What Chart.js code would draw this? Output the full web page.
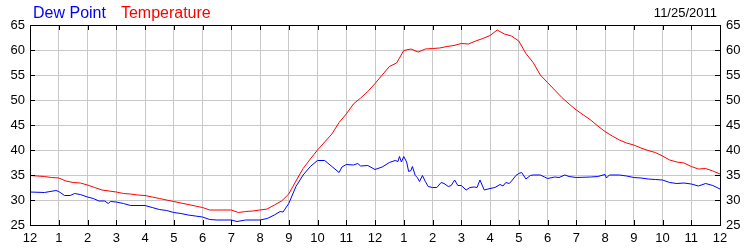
<!DOCTYPE html>
<html>
<head>
<meta charset="utf-8">
<script src="https://cdn.jsdelivr.net/npm/chart.js@4.4.1/dist/chart.umd.min.js"></script>
<style>
html, body { margin: 0; padding: 0; background: #fff; }
#wrap { width: 750px; height: 250px; }
</style>
</head>
<body>
<div id="wrap"><canvas id="chart" width="750" height="250"></canvas></div>
<script>
const hourLabels = ['12', '1', '2', '3', '4', '5', '6', '7', '8', '9', '10', '11',
    '12', '1', '2', '3', '4', '5', '6', '7', '8', '9', '10', '11', '12'];
const dateLabel = '11/25/2011';

// temperature, read every quarter hour
const tempHours = [
    0, 0.25, 0.5, 0.75, 1, 1.25, 1.5, 1.75, 2, 2.25, 2.5, 2.75,
    3, 3.25, 3.5, 3.75, 4, 4.25, 4.5, 4.75, 5, 5.25, 5.5, 5.75,
    6, 6.25, 6.5, 6.75, 7, 7.25, 7.5, 7.75, 8, 8.25, 8.5, 8.75,
    9, 9.25, 9.5, 9.75, 10, 10.25, 10.5, 10.75, 11, 11.25, 11.5, 11.75,
    12, 12.25, 12.5, 12.75, 13, 13.25, 13.5, 13.75, 14, 14.25, 14.5, 14.75,
    15, 15.25, 15.5, 15.75, 16, 16.25, 16.5, 16.75, 17, 17.25, 17.5, 17.75,
    18, 18.25, 18.5, 18.75, 19, 19.25, 19.5, 19.75, 20, 20.25, 20.5, 20.75,
    21, 21.25, 21.5, 21.75, 22, 22.25, 22.5, 22.75, 23, 23.25, 23.5, 23.75, 24
];
const temperature = [
    34.9, 34.8, 34.7, 34.5, 34.4, 33.8, 33.5, 33.4, 33.0, 32.5, 32.0, 31.8,
    31.6, 31.3, 31.2, 31.0, 30.9, 30.6, 30.3, 30.0, 29.7, 29.4, 29.1, 28.8,
    28.5, 28.0, 28.0, 28.0, 28.0, 27.5, 27.7, 27.8, 28.0, 28.2, 29.0, 29.8,
    31.2, 33.8, 36.3, 38.2, 40.0, 41.6, 43.2, 45.5, 47.2, 49.2, 50.4, 51.7,
    53.3, 55.0, 56.7, 57.4, 59.9, 60.2, 59.6, 60.2, 60.3, 60.4, 60.7, 60.9,
    61.3, 61.2, 61.8, 62.3, 62.9, 64.0, 63.2, 62.8, 61.8, 59.3, 57.5, 55.0,
    53.5, 52.0, 50.5, 49.2, 48.0, 47.0, 46.0, 44.8, 43.7, 42.8, 42.0, 41.4,
    41.0, 40.4, 39.9, 39.5, 38.8, 38.0, 37.6, 37.4, 36.7, 36.2, 36.3, 35.8, 35.2
];

// dew point, read at the turning points of the trace
const dewHours = [
    0, 0.5, 0.9, 1.0, 1.2, 1.4, 1.55, 1.75, 2.0, 2.2, 2.4, 2.6, 2.72, 2.8,
    3.0, 3.25, 3.5, 4.0, 4.25, 4.5, 4.75, 5.0, 5.25, 5.5, 5.75, 6.0, 6.25, 6.5,
    7.0, 7.2, 7.5, 8.0, 8.25, 8.5, 8.7, 8.8, 9.0, 9.25, 9.5, 9.75, 10.0, 10.25,
    10.5, 10.75, 10.85, 11.0, 11.25, 11.4, 11.5, 11.75, 12.0, 12.25, 12.5, 12.7,
    12.8, 12.85, 12.92, 13.0, 13.1, 13.17, 13.25, 13.3, 13.4, 13.47, 13.55, 13.65,
    13.75, 13.85, 14.0, 14.15, 14.3, 14.4, 14.55, 14.65, 14.77, 14.88, 15.0, 15.17,
    15.3, 15.45, 15.55, 15.65, 15.8, 16.0, 16.17, 16.35, 16.45, 16.55, 16.67, 16.78,
    16.9, 17.0, 17.1, 17.25, 17.4, 17.5, 17.75, 17.9, 18.0, 18.25, 18.4, 18.6,
    18.75, 19.0, 19.5, 19.75, 20.0, 20.05, 20.15, 20.5, 20.75, 21.0, 21.25, 21.5,
    21.75, 22.0, 22.25, 22.5, 22.75, 23.0, 23.25, 23.5, 23.75, 24.0
];
const dewPoint = [
    31.6, 31.5, 31.9, 31.7, 30.9, 30.9, 31.3, 31.1, 30.6, 30.3, 29.8, 29.8, 29.3, 29.7,
    29.6, 29.3, 28.9, 28.9, 28.5, 28.1, 27.9, 27.5, 27.3, 27.0, 26.8, 26.6, 26.1, 26.0,
    26.0, 25.7, 26.0, 26.0, 26.3, 27.0, 27.7, 27.6, 29.3, 32.7, 35.0, 36.7, 37.9, 37.9,
    36.7, 35.5, 36.6, 37.1, 37.0, 37.3, 36.8, 36.9, 36.1, 36.6, 37.5, 37.9,
    37.7, 38.7, 37.6, 38.7, 37.6, 35.7, 35.9, 36.7, 34.9, 34.5, 33.7, 34.9,
    33.7, 32.7, 32.5, 32.5, 33.5, 33.3, 32.7, 32.9, 34.0, 32.9, 32.9, 32.0,
    32.5, 32.6, 32.5, 34.0, 32.0, 32.3, 32.5, 33.1, 32.8, 33.5, 33.3, 34.0,
    34.9, 35.3, 35.5, 34.2, 34.9, 35.0, 35.0, 34.6, 34.3, 34.6, 34.5, 35.0,
    34.7, 34.5, 34.6, 34.7, 35.1, 34.4, 35.0, 35.0, 34.8, 34.5, 34.4, 34.2,
    34.1, 34.0, 33.5, 33.3, 33.4, 33.2, 32.8, 33.3, 32.9, 32.2
];

const fontFamily = '"Liberation Sans", Arial, sans-serif';

// black frame round the plot, with short ticks pointing inwards
const framePlugin = {
    id: 'frame',
    afterDatasetsDraw(chart) {
        const { ctx, chartArea: { left, right, top, bottom }, scales: { x, y } } = chart;
        ctx.save();
        ctx.strokeStyle = '#000';
        ctx.lineWidth = 1;
        ctx.beginPath();
        for (const tick of x.ticks) {
            const px = Math.round(x.getPixelForValue(tick.value)) + 0.5;
            ctx.moveTo(px, top);
            ctx.lineTo(px, top + 5);
            ctx.moveTo(px, bottom);
            ctx.lineTo(px, bottom - 5);
        }
        for (const tick of y.ticks) {
            const py = Math.round(y.getPixelForValue(tick.value)) + 0.5;
            ctx.moveTo(left, py);
            ctx.lineTo(left + 5, py);
            ctx.moveTo(right, py);
            ctx.lineTo(right - 5, py);
        }
        ctx.stroke();
        ctx.strokeRect(Math.round(left) + 0.5, Math.round(top) + 0.5,
            Math.round(right - left), Math.round(bottom - top));
        ctx.restore();
    }
};

// series names at top left, date at top right
const headerPlugin = {
    id: 'header',
    afterDraw(chart) {
        const { ctx } = chart;
        ctx.save();
        ctx.font = '16px ' + fontFamily;
        ctx.textBaseline = 'alphabetic';
        ctx.textAlign = 'left';
        let xPos = 33;
        chart.data.datasets.forEach(ds => {
            ctx.fillStyle = ds.borderColor;
            ctx.fillText(ds.label, xPos, 18);
            xPos += ctx.measureText(ds.label).width + 15;
        });
        ctx.font = '13px ' + fontFamily;
        ctx.fillStyle = '#000';
        ctx.textAlign = 'right';
        ctx.fillText(dateLabel, 717, 17);
        ctx.restore();
    }
};

const toPoints = (xs, ys) => xs.map((h, i) => ({ x: h, y: ys[i] }));

const tickFont = { family: fontFamily, size: 13 };

new Chart(document.getElementById('chart').getContext('2d'), {
    type: 'line',
    data: {
        datasets: [
            {
                label: 'Dew Point',
                data: toPoints(dewHours, dewPoint),
                borderColor: '#0000ff',
                borderWidth: 1,
                pointRadius: 0,
                tension: 0
            },
            {
                label: 'Temperature',
                data: toPoints(tempHours, temperature),
                borderColor: '#ff0000',
                borderWidth: 1,
                pointRadius: 0,
                tension: 0
            }
        ]
    },
    options: {
        responsive: false,
        animation: false,
        devicePixelRatio: 1,
        layout: { padding: { top: 25, left: 0, right: 0, bottom: 0 } },
        plugins: {
            legend: { display: false },
            tooltip: { enabled: false }
        },
        scales: {
            x: {
                type: 'linear',
                min: 0,
                max: 24,
                border: { display: false },
                grid: { color: '#c8c8c8', drawTicks: false },
                ticks: {
                    stepSize: 1,
                    autoSkip: false,
                    maxRotation: 0,
                    padding: 6,
                    color: '#000',
                    font: tickFont,
                    callback: v => hourLabels[v]
                },
                afterFit: s => { s.height = 25; }
            },
            y: {
                min: 25,
                max: 65,
                border: { display: false },
                grid: { color: '#c8c8c8', drawTicks: false },
                ticks: { stepSize: 5, padding: 5, color: '#000', font: tickFont },
                afterFit: s => { s.width = 30; }
            },
            y2: {
                position: 'right',
                min: 25,
                max: 65,
                border: { display: false },
                grid: { drawOnChartArea: false, drawTicks: false },
                ticks: { stepSize: 5, padding: 6, color: '#000', font: tickFont },
                afterFit: s => { s.width = 30; }
            }
        }
    },
    plugins: [framePlugin, headerPlugin]
});
</script>
</body>
</html>
